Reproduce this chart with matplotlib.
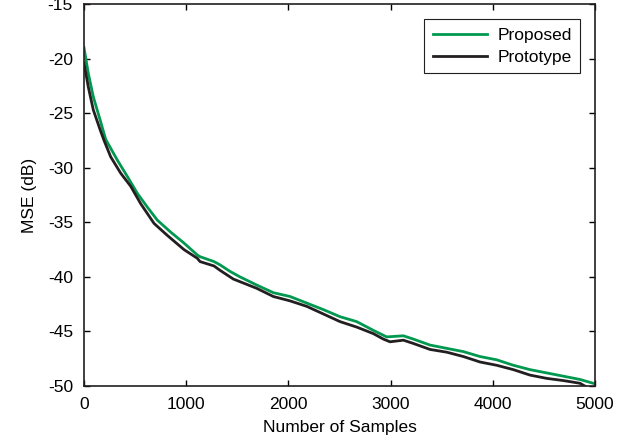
import numpy as np
import matplotlib.pyplot as plt

plt.rcParams['font.family'] = ['Liberation Sans', 'DejaVu Sans']
plt.rcParams['axes.unicode_minus'] = False

# Proposed (green) curve
samples_proposed = [0, 42, 91, 157, 212, 254, 326, 424, 522, 619, 717, 848, 978,
                    1109, 1135, 1272, 1331, 1429, 1526, 1690, 1853, 2016, 2179,
                    2342, 2505, 2668, 2831, 2961, 3125, 3222, 3386, 3549, 3712,
                    3875, 4038, 4201, 4364, 4527, 4690, 4853, 5000]
mse_proposed = [-19.0, -21.35, -23.5, -25.6, -27.4, -28.1, -29.3, -30.8, -32.35,
                -33.6, -34.8, -35.9, -36.9, -38.0, -38.15, -38.6, -38.9, -39.5,
                -40.0, -40.75, -41.45, -41.8, -42.4, -43.0, -43.65, -44.1, -44.9,
                -45.5, -45.4, -45.7, -46.25, -46.55, -46.85, -47.3, -47.6, -48.1,
                -48.5, -48.8, -49.1, -49.4, -49.8]

# Prototype (black) curve
samples_prototype = [0, 42, 91, 157, 196, 261, 359, 457, 555, 685, 815, 978, 1109,
                     1135, 1272, 1331, 1461, 1690, 1853, 2016, 2179, 2342, 2505,
                     2668, 2831, 2929, 2994, 3125, 3222, 3386, 3549, 3712, 3875,
                     4038, 4201, 4364, 4527, 4690, 4853, 4900]
mse_prototype = [-20.4, -22.6, -24.7, -26.5, -27.5, -29.0, -30.5, -31.7, -33.3,
                 -35.1, -36.2, -37.5, -38.3, -38.6, -39.0, -39.4, -40.2, -41.05,
                 -41.8, -42.2, -42.7, -43.4, -44.1, -44.6, -45.2, -45.7, -45.95,
                 -45.8, -46.1, -46.65, -46.9, -47.3, -47.8, -48.1, -48.5, -49.0,
                 -49.3, -49.5, -49.75, -50.0]

fig = plt.figure(figsize=(6.33, 4.44), dpi=100)
ax = fig.add_axes([0.1327, 0.1306, 0.8073, 0.8604])

ax.plot(samples_proposed, mse_proposed, color='#00994f', lw=2, label='Proposed')
ax.plot(samples_prototype, mse_prototype, color='#231f20', lw=2, label='Prototype')

ax.set_xlim(0, 5000)
ax.set_ylim(-50, -15)
ax.set_xticks(np.arange(0, 5001, 1000))
ax.set_yticks(np.arange(-50, -14, 5))
ax.tick_params(direction='in', top=True, right=True, length=4.5, labelsize=12.5,
               width=1, pad=8)
for s in ax.spines.values():
    s.set_linewidth(1.2)
    s.set_color('#231f20')

ax.set_xlabel('Number of Samples', fontsize=12.5, labelpad=6)
ax.set_ylabel('MSE (dB)', fontsize=12.5, labelpad=8)

leg = ax.legend(loc='upper right', fontsize=12.5, fancybox=False,
                edgecolor='#231f20', framealpha=1, handlelength=3.1,
                borderaxespad=0.85, borderpad=0.5, labelspacing=0.4,
                handletextpad=0.6)
leg.get_frame().set_linewidth(0.8)

fig.savefig('out.png', dpi=100)
